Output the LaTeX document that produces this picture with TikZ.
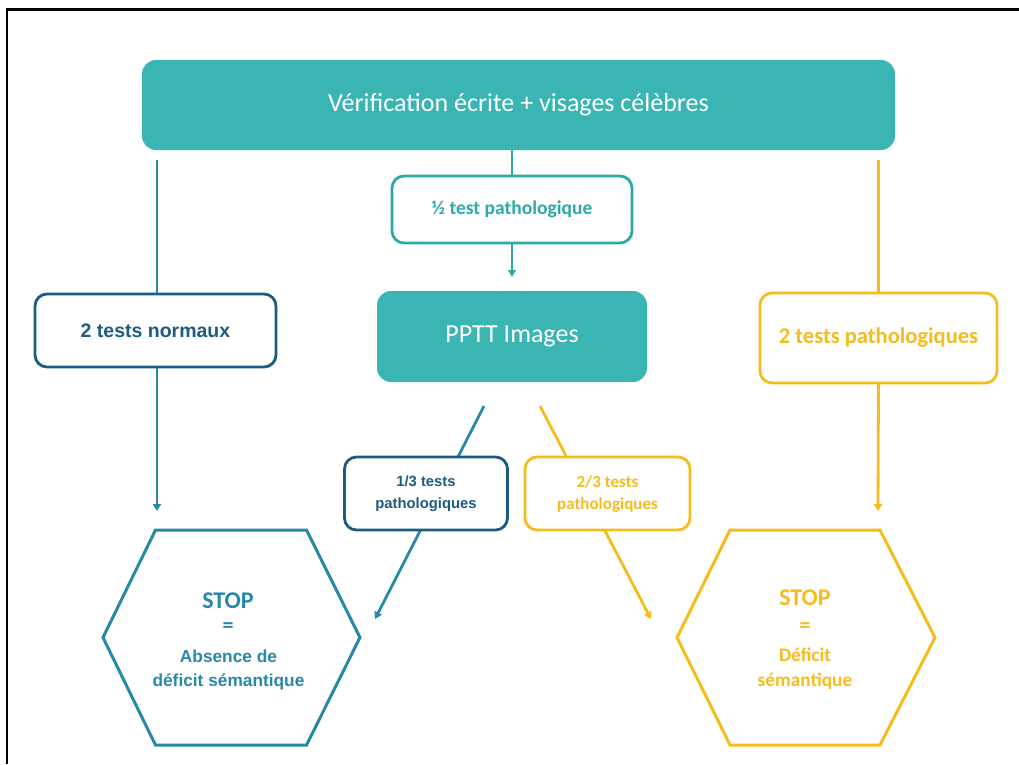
\documentclass[tikz,border=0pt]{standalone}
\usepackage{fontspec}
\setmainfont{Carlito}
\newfontfamily\arialfont{Liberation Sans}
\usetikzlibrary{arrows.meta,calc,backgrounds}
\definecolor{tealfill}{RGB}{58,181,179}
\definecolor{tealline}{RGB}{44,170,168}
\definecolor{navy}{RGB}{29,92,130}
\definecolor{bluel}{RGB}{40,136,168}
\definecolor{ambr}{RGB}{245,188,28}
\tikzset{
  x=1pt, y=-1pt,
  every node/.style={inner sep=0pt, outer sep=0pt},
  tealbox/.style={rounded corners=14pt, fill=tealfill, text=white},
  outbox/.style={rounded corners=12pt, fill=white, line width=2.8pt},
  conn/.style={line width=2.8pt},
  arr/.style={conn, -{Triangle[width=8pt,length=7pt]}},
  hexline/.style={line width=3pt, line join=miter},
}
\begin{document}
\begin{tikzpicture}
\useasboundingbox (0,0) rectangle (1019,764);
% frame
\draw[line width=2.6pt, black] (7,764) -- (7,9.5) -- (1019,9.5);

% nodes
\node[tealbox, minimum width=753pt, minimum height=90pt, font=\fontsize{26}{30}\selectfont] (top) at (518.5,105) {Vérification écrite + visages célèbres};
\node[outbox, draw=tealline, text=tealline, minimum width=240pt, minimum height=67pt, font=\fontsize{19.5}{22}\selectfont\bfseries] (half) at (512,209.5) {½ test pathologique};
\node[tealbox, minimum width=270pt, minimum height=91pt, font=\fontsize{26}{30}\selectfont] (pptt) at (512,336.5) {PPTT Images};
\node[outbox, draw=navy, text=navy, minimum width=241pt, minimum height=73pt, font=\arialfont\fontsize{19.5}{22}\selectfont\bfseries] (normaux) at (155.5,330.5) {2 tests normaux};
\node[outbox, draw=ambr, text=ambr, minimum width=237pt, minimum height=90pt, font=\fontsize{22.5}{26}\selectfont\bfseries] (patho) at (878.5,338) {2 tests pathologiques};
\node[outbox, draw=navy, text=navy, minimum width=163pt, minimum height=73pt, align=center, font=\arialfont\fontsize{14.8}{22}\selectfont\bfseries] (third) at (426,493.5) {1/3 tests\\pathologiques};
\node[outbox, draw=ambr, text=ambr, minimum width=165pt, minimum height=73pt, align=center, font=\fontsize{17}{22}\selectfont\bfseries] (twothird) at (607.5,493.5) {2/3 tests\\pathologiques};

% hexagons
\coordinate (hl) at (231.5,637.5);
\draw[hexline, bluel] ($(hl)+(-76,-107.5)$) -- ($(hl)+(75,-107.5)$) -- ($(hl)+(128.5,0)$) -- ($(hl)+(75,107.5)$) -- ($(hl)+(-76,107.5)$) -- ($(hl)+(-128.5,0)$) -- cycle;
\coordinate (hr) at (806,637.5);
\draw[hexline, ambr] ($(hr)+(-76,-107.5)$) -- ($(hr)+(74,-107.5)$) -- ($(hr)+(129,0)$) -- ($(hr)+(74,107.5)$) -- ($(hr)+(-76,107.5)$) -- ($(hr)+(-129,0)$) -- cycle;

\node[text=bluel, font=\fontsize{24}{28}\selectfont\bfseries] (stopl) at (228,601) {STOP};
\node[text=bluel, font=\fontsize{22}{24}\selectfont\bfseries] (eql) at (228,628) {=};
\node[text=bluel, align=center, font=\arialfont\fontsize{17.3}{23.5}\selectfont\bfseries] (descl) at (228.5,670) {Absence de\\déficit sémantique};

\node[text=ambr, font=\fontsize{24}{28}\selectfont\bfseries] (stopr) at (805,598) {STOP};
\node[text=ambr, font=\fontsize{22}{24}\selectfont\bfseries] (eqr) at (805,628) {=};
\node[text=ambr, align=center, font=\fontsize{19.3}{25}\selectfont\bfseries] (descr) at (805,669) {Déficit\\sémantique};

% endpoints
\coordinate (lend) at (157,511);
\coordinate (rend) at (878,511);
\coordinate (d1s) at (484,406);
\coordinate (d1e) at (375,619);
\coordinate (d2s) at (540,406);
\coordinate (d2e) at (651,619);

% connectors
\begin{scope}[on background layer]
\draw[conn, tealline] (top.south -| half) -- (half.north);
\draw[arr, tealline] (half.south) -- ($(pptt.north)+(0,-14)$);
\draw[conn, bluel] ($(top.south -| normaux)+(1.5,10)$) -- ($(normaux.north)+(1.5,0)$);
\draw[arr, bluel] ($(normaux.south)+(1.5,0)$) -- (lend);
\draw[conn, ambr] ($(top.south -| patho)+(0,10)$) -- (patho.north);
\draw[arr, ambr] (patho.south) -- (rend);
\draw[arr, bluel] (d1s) -- (d1e);
\draw[arr, ambr] (d2s) -- (d2e);
\end{scope}
\end{tikzpicture}
\end{document}
